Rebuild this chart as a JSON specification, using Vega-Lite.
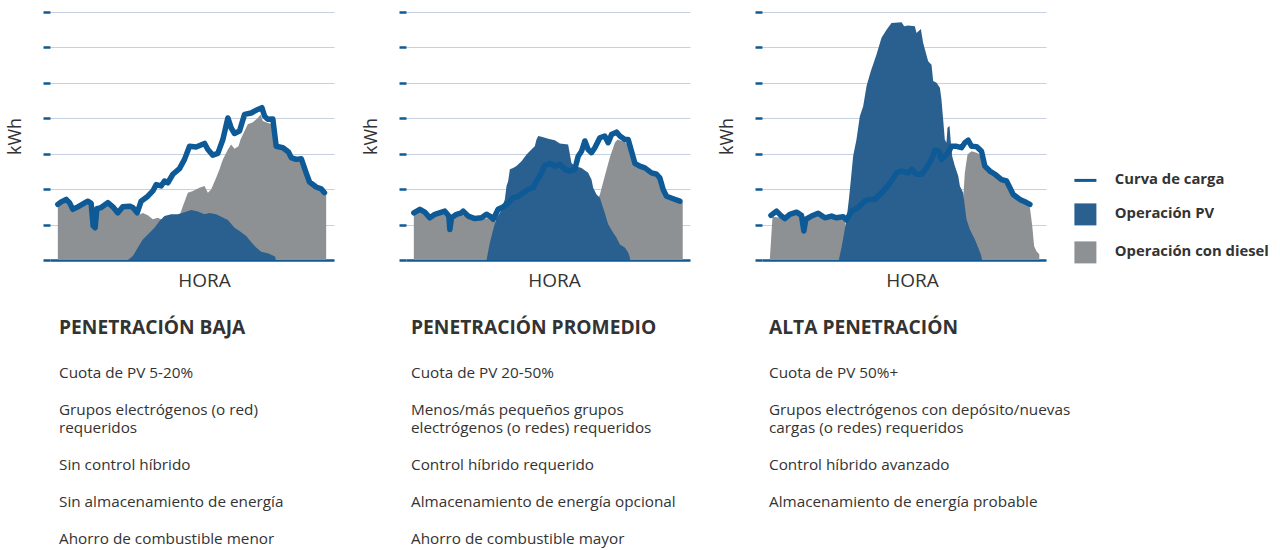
{
  "$schema": "https://vega.github.io/schema/vega-lite/v6.json",
  "background": "white",
  "padding": {"left": 6, "top": 10, "right": 4, "bottom": 2},
  "config": {
    "view": {"stroke": null},
    "font": "Open Sans",
    "axisX": {"labels": false, "ticks": false, "grid": false, "domain": true, "domainColor": "#0f5a94", "domainWidth": 2.5, "titleFontSize": 19, "titleFontWeight": "normal", "titleColor": "#333333", "titlePadding": 11, "zindex": 1},
    "axisY": {"labels": false, "ticks": true, "tickSize": 7, "tickColor": "#0f5a94", "tickWidth": 2.5, "domain": false, "grid": true, "gridColor": "#c6d0df", "gridWidth": 1, "titleFontSize": 18, "titleFontWeight": "normal", "titleColor": "#333333", "titlePadding": 17},
    "title": {"orient": "bottom", "anchor": "start", "frame": "group", "offset": 29, "fontSize": 19.2, "fontWeight": "bold", "color": "#333333", "subtitleFontSize": 15.3, "subtitleColor": "#333333", "subtitleFont": "Open Sans", "subtitleLineHeight": 18.4, "subtitlePadding": 28}
  },
  "datasets": {
    "baja": [
      {"serie": "Curva de carga", "hora": 0, "kwh": 1.57}, {"serie": "Curva de carga", "hora": 0.3, "kwh": 1.64}, {"serie": "Curva de carga", "hora": 0.75, "kwh": 1.71}, {"serie": "Curva de carga", "hora": 1.04, "kwh": 1.62}, {"serie": "Curva de carga", "hora": 1.34, "kwh": 1.43}, {"serie": "Curva de carga", "hora": 1.79, "kwh": 1.5}, {"serie": "Curva de carga", "hora": 2.68, "kwh": 1.66}, {"serie": "Curva de carga", "hora": 2.98, "kwh": 1.6}, {"serie": "Curva de carga", "hora": 3.16, "kwh": 0.96}, {"serie": "Curva de carga", "hora": 3.34, "kwh": 0.91}, {"serie": "Curva de carga", "hora": 3.49, "kwh": 1.45}, {"serie": "Curva de carga", "hora": 3.88, "kwh": 1.48}, {"serie": "Curva de carga", "hora": 4.47, "kwh": 1.62}, {"serie": "Curva de carga", "hora": 4.92, "kwh": 1.5}, {"serie": "Curva de carga", "hora": 5.37, "kwh": 1.33}, {"serie": "Curva de carga", "hora": 5.81, "kwh": 1.5}, {"serie": "Curva de carga", "hora": 6.41, "kwh": 1.52}, {"serie": "Curva de carga", "hora": 6.71, "kwh": 1.48}, {"serie": "Curva de carga", "hora": 7.1, "kwh": 1.33}, {"serie": "Curva de carga", "hora": 7.45, "kwh": 1.66}, {"serie": "Curva de carga", "hora": 8.05, "kwh": 1.8}, {"serie": "Curva de carga", "hora": 8.5, "kwh": 1.95}, {"serie": "Curva de carga", "hora": 8.8, "kwh": 2.13}, {"serie": "Curva de carga", "hora": 9.24, "kwh": 2.09}, {"serie": "Curva de carga", "hora": 9.54, "kwh": 2.23}, {"serie": "Curva de carga", "hora": 9.84, "kwh": 2.18}, {"serie": "Curva de carga", "hora": 10.29, "kwh": 2.42}, {"serie": "Curva de carga", "hora": 10.88, "kwh": 2.58}, {"serie": "Curva de carga", "hora": 11.33, "kwh": 2.84}, {"serie": "Curva de carga", "hora": 11.78, "kwh": 3.21}, {"serie": "Curva de carga", "hora": 12.37, "kwh": 3.19}, {"serie": "Curva de carga", "hora": 13.12, "kwh": 3.29}, {"serie": "Curva de carga", "hora": 13.42, "kwh": 3.12}, {"serie": "Curva de carga", "hora": 13.86, "kwh": 2.96}, {"serie": "Curva de carga", "hora": 14.31, "kwh": 3.01}, {"serie": "Curva de carga", "hora": 14.76, "kwh": 3.4}, {"serie": "Curva de carga", "hora": 15.21, "kwh": 4.01}, {"serie": "Curva de carga", "hora": 15.5, "kwh": 3.73}, {"serie": "Curva de carga", "hora": 15.8, "kwh": 3.57}, {"serie": "Curva de carga", "hora": 16.25, "kwh": 3.64}, {"serie": "Curva de carga", "hora": 16.7, "kwh": 4.11}, {"serie": "Curva de carga", "hora": 17.29, "kwh": 4.15}, {"serie": "Curva de carga", "hora": 17.89, "kwh": 4.25}, {"serie": "Curva de carga", "hora": 18.25, "kwh": 4.3}, {"serie": "Curva de carga", "hora": 18.49, "kwh": 4.06}, {"serie": "Curva de carga", "hora": 18.78, "kwh": 3.97}, {"serie": "Curva de carga", "hora": 19.23, "kwh": 3.98}, {"serie": "Curva de carga", "hora": 19.53, "kwh": 3.21}, {"serie": "Curva de carga", "hora": 20.13, "kwh": 3.17}, {"serie": "Curva de carga", "hora": 20.63, "kwh": 3.05}, {"serie": "Curva de carga", "hora": 20.87, "kwh": 2.89}, {"serie": "Curva de carga", "hora": 21.32, "kwh": 2.84}, {"serie": "Curva de carga", "hora": 21.77, "kwh": 2.86}, {"serie": "Curva de carga", "hora": 22.21, "kwh": 2.46}, {"serie": "Curva de carga", "hora": 22.51, "kwh": 2.2}, {"serie": "Curva de carga", "hora": 23.11, "kwh": 2.06}, {"serie": "Curva de carga", "hora": 23.55, "kwh": 2.01}, {"serie": "Curva de carga", "hora": 23.85, "kwh": 1.9},
      {"serie": "Operación con diesel", "hora": 0, "kwh": 1.54}, {"serie": "Operación con diesel", "hora": 0.75, "kwh": 1.66}, {"serie": "Operación con diesel", "hora": 1.34, "kwh": 1.38}, {"serie": "Operación con diesel", "hora": 2.68, "kwh": 1.62}, {"serie": "Operación con diesel", "hora": 2.98, "kwh": 1.57}, {"serie": "Operación con diesel", "hora": 3.22, "kwh": 0.86}, {"serie": "Operación con diesel", "hora": 3.49, "kwh": 1.41}, {"serie": "Operación con diesel", "hora": 4.47, "kwh": 1.57}, {"serie": "Operación con diesel", "hora": 5.37, "kwh": 1.29}, {"serie": "Operación con diesel", "hora": 5.81, "kwh": 1.45}, {"serie": "Operación con diesel", "hora": 6.71, "kwh": 1.43}, {"serie": "Operación con diesel", "hora": 7.16, "kwh": 1.26}, {"serie": "Operación con diesel", "hora": 7.6, "kwh": 1.33}, {"serie": "Operación con diesel", "hora": 8.05, "kwh": 1.26}, {"serie": "Operación con diesel", "hora": 8.5, "kwh": 1.15}, {"serie": "Operación con diesel", "hora": 8.94, "kwh": 1.19}, {"serie": "Operación con diesel", "hora": 9.39, "kwh": 1.12}, {"serie": "Operación con diesel", "hora": 9.84, "kwh": 0.96}, {"serie": "Operación con diesel", "hora": 10.44, "kwh": 1.05}, {"serie": "Operación con diesel", "hora": 10.97, "kwh": 1.33}, {"serie": "Operación con diesel", "hora": 11.18, "kwh": 1.52}, {"serie": "Operación con diesel", "hora": 11.63, "kwh": 1.9}, {"serie": "Operación con diesel", "hora": 12.08, "kwh": 1.95}, {"serie": "Operación con diesel", "hora": 12.67, "kwh": 2.04}, {"serie": "Operación con diesel", "hora": 13.12, "kwh": 2.09}, {"serie": "Operación con diesel", "hora": 13.42, "kwh": 1.9}, {"serie": "Operación con diesel", "hora": 13.71, "kwh": 1.99}, {"serie": "Operación con diesel", "hora": 14.16, "kwh": 2.32}, {"serie": "Operación con diesel", "hora": 14.46, "kwh": 2.56}, {"serie": "Operación con diesel", "hora": 14.76, "kwh": 2.84}, {"serie": "Operación con diesel", "hora": 15.21, "kwh": 3.12}, {"serie": "Operación con diesel", "hora": 15.5, "kwh": 3.26}, {"serie": "Operación con diesel", "hora": 15.8, "kwh": 3.14}, {"serie": "Operación con diesel", "hora": 16.16, "kwh": 3.21}, {"serie": "Operación con diesel", "hora": 16.34, "kwh": 3.4}, {"serie": "Operación con diesel", "hora": 16.7, "kwh": 3.64}, {"serie": "Operación con diesel", "hora": 16.99, "kwh": 3.83}, {"serie": "Operación con diesel", "hora": 17.44, "kwh": 3.89}, {"serie": "Operación con diesel", "hora": 17.89, "kwh": 4.01}, {"serie": "Operación con diesel", "hora": 18.13, "kwh": 4.11}, {"serie": "Operación con diesel", "hora": 18.34, "kwh": 3.92}, {"serie": "Operación con diesel", "hora": 18.78, "kwh": 3.87}, {"serie": "Operación con diesel", "hora": 19.23, "kwh": 3.83}, {"serie": "Operación con diesel", "hora": 19.53, "kwh": 3.17}, {"serie": "Operación con diesel", "hora": 20.13, "kwh": 3.12}, {"serie": "Operación con diesel", "hora": 20.72, "kwh": 2.95}, {"serie": "Operación con diesel", "hora": 21.17, "kwh": 2.86}, {"serie": "Operación con diesel", "hora": 21.77, "kwh": 2.84}, {"serie": "Operación con diesel", "hora": 22.21, "kwh": 2.42}, {"serie": "Operación con diesel", "hora": 22.51, "kwh": 2.13}, {"serie": "Operación con diesel", "hora": 23.11, "kwh": 2.01}, {"serie": "Operación con diesel", "hora": 23.7, "kwh": 1.92}, {"serie": "Operación con diesel", "hora": 24, "kwh": 1.85},
      {"serie": "Operación PV", "hora": 6.26, "kwh": 0}, {"serie": "Operación PV", "hora": 6.71, "kwh": 0.11}, {"serie": "Operación PV", "hora": 7.16, "kwh": 0.35}, {"serie": "Operación PV", "hora": 7.6, "kwh": 0.58}, {"serie": "Operación PV", "hora": 8.2, "kwh": 0.77}, {"serie": "Operación PV", "hora": 8.65, "kwh": 0.91}, {"serie": "Operación PV", "hora": 9.09, "kwh": 1.1}, {"serie": "Operación PV", "hora": 9.54, "kwh": 1.24}, {"serie": "Operación PV", "hora": 10.14, "kwh": 1.29}, {"serie": "Operación PV", "hora": 10.73, "kwh": 1.29}, {"serie": "Operación PV", "hora": 11.33, "kwh": 1.35}, {"serie": "Operación PV", "hora": 11.93, "kwh": 1.41}, {"serie": "Operación PV", "hora": 12.52, "kwh": 1.37}, {"serie": "Operación PV", "hora": 13.12, "kwh": 1.29}, {"serie": "Operación PV", "hora": 13.57, "kwh": 1.33}, {"serie": "Operación PV", "hora": 14.16, "kwh": 1.29}, {"serie": "Operación PV", "hora": 14.61, "kwh": 1.22}, {"serie": "Operación PV", "hora": 15.21, "kwh": 1.13}, {"serie": "Operación PV", "hora": 15.8, "kwh": 0.91}, {"serie": "Operación PV", "hora": 16.25, "kwh": 0.82}, {"serie": "Operación PV", "hora": 16.85, "kwh": 0.68}, {"serie": "Operación PV", "hora": 17.29, "kwh": 0.51}, {"serie": "Operación PV", "hora": 17.74, "kwh": 0.35}, {"serie": "Operación PV", "hora": 18.19, "kwh": 0.23}, {"serie": "Operación PV", "hora": 18.78, "kwh": 0.19}, {"serie": "Operación PV", "hora": 19.23, "kwh": 0.13}, {"serie": "Operación PV", "hora": 19.44, "kwh": 0.09}, {"serie": "Operación PV", "hora": 19.5, "kwh": 0}
    ],
    "promedio": [
      {"serie": "Curva de carga", "hora": 0, "kwh": 1.33}, {"serie": "Curva de carga", "hora": 0.54, "kwh": 1.43}, {"serie": "Curva de carga", "hora": 0.98, "kwh": 1.35}, {"serie": "Curva de carga", "hora": 1.43, "kwh": 1.19}, {"serie": "Curva de carga", "hora": 1.88, "kwh": 1.29}, {"serie": "Curva de carga", "hora": 2.77, "kwh": 1.38}, {"serie": "Curva de carga", "hora": 3.13, "kwh": 1.24}, {"serie": "Curva de carga", "hora": 3.22, "kwh": 0.86}, {"serie": "Curva de carga", "hora": 3.37, "kwh": 1.19}, {"serie": "Curva de carga", "hora": 3.82, "kwh": 1.29}, {"serie": "Curva de carga", "hora": 4.26, "kwh": 1.33}, {"serie": "Curva de carga", "hora": 4.41, "kwh": 1.38}, {"serie": "Curva de carga", "hora": 4.86, "kwh": 1.24}, {"serie": "Curva de carga", "hora": 5.46, "kwh": 1.17}, {"serie": "Curva de carga", "hora": 6.05, "kwh": 1.19}, {"serie": "Curva de carga", "hora": 6.5, "kwh": 1.29}, {"serie": "Curva de carga", "hora": 6.8, "kwh": 1.24}, {"serie": "Curva de carga", "hora": 7.1, "kwh": 1.15}, {"serie": "Curva de carga", "hora": 7.54, "kwh": 1.43}, {"serie": "Curva de carga", "hora": 7.99, "kwh": 1.5}, {"serie": "Curva de carga", "hora": 8.44, "kwh": 1.6}, {"serie": "Curva de carga", "hora": 8.88, "kwh": 1.76}, {"serie": "Curva de carga", "hora": 9.33, "kwh": 1.79}, {"serie": "Curva de carga", "hora": 9.78, "kwh": 1.9}, {"serie": "Curva de carga", "hora": 10.23, "kwh": 1.99}, {"serie": "Curva de carga", "hora": 10.67, "kwh": 2.04}, {"serie": "Curva de carga", "hora": 10.97, "kwh": 2.23}, {"serie": "Curva de carga", "hora": 11.27, "kwh": 2.37}, {"serie": "Curva de carga", "hora": 11.72, "kwh": 2.67}, {"serie": "Curva de carga", "hora": 12.16, "kwh": 2.73}, {"serie": "Curva de carga", "hora": 12.61, "kwh": 2.65}, {"serie": "Curva de carga", "hora": 13.06, "kwh": 2.7}, {"serie": "Curva de carga", "hora": 13.51, "kwh": 2.56}, {"serie": "Curva de carga", "hora": 13.95, "kwh": 2.51}, {"serie": "Curva de carga", "hora": 14.4, "kwh": 2.56}, {"serie": "Curva de carga", "hora": 14.7, "kwh": 2.93}, {"serie": "Curva de carga", "hora": 15.0, "kwh": 3.07}, {"serie": "Curva de carga", "hora": 15.3, "kwh": 3.36}, {"serie": "Curva de carga", "hora": 15.59, "kwh": 3.12}, {"serie": "Curva de carga", "hora": 15.89, "kwh": 3.03}, {"serie": "Curva de carga", "hora": 16.19, "kwh": 3.17}, {"serie": "Curva de carga", "hora": 16.64, "kwh": 3.45}, {"serie": "Curva de carga", "hora": 17.08, "kwh": 3.5}, {"serie": "Curva de carga", "hora": 17.38, "kwh": 3.31}, {"serie": "Curva de carga", "hora": 17.68, "kwh": 3.54}, {"serie": "Curva de carga", "hora": 18.13, "kwh": 3.61}, {"serie": "Curva de carga", "hora": 18.43, "kwh": 3.5}, {"serie": "Curva de carga", "hora": 18.87, "kwh": 3.4}, {"serie": "Curva de carga", "hora": 19.17, "kwh": 3.4}, {"serie": "Curva de carga", "hora": 19.47, "kwh": 3.07}, {"serie": "Curva de carga", "hora": 19.77, "kwh": 2.73}, {"serie": "Curva de carga", "hora": 20.21, "kwh": 2.65}, {"serie": "Curva de carga", "hora": 20.66, "kwh": 2.6}, {"serie": "Curva de carga", "hora": 21.26, "kwh": 2.46}, {"serie": "Curva de carga", "hora": 21.71, "kwh": 2.42}, {"serie": "Curva de carga", "hora": 22.0, "kwh": 2.32}, {"serie": "Curva de carga", "hora": 22.3, "kwh": 1.99}, {"serie": "Curva de carga", "hora": 22.6, "kwh": 1.8}, {"serie": "Curva de carga", "hora": 23.2, "kwh": 1.73}, {"serie": "Curva de carga", "hora": 23.79, "kwh": 1.66},
      {"serie": "Operación con diesel", "hora": 0, "kwh": 1.29}, {"serie": "Operación con diesel", "hora": 0.54, "kwh": 1.38}, {"serie": "Operación con diesel", "hora": 1.28, "kwh": 1.17}, {"serie": "Operación con diesel", "hora": 2.77, "kwh": 1.33}, {"serie": "Operación con diesel", "hora": 3.13, "kwh": 1.19}, {"serie": "Operación con diesel", "hora": 3.22, "kwh": 0.82}, {"serie": "Operación con diesel", "hora": 3.37, "kwh": 1.15}, {"serie": "Operación con diesel", "hora": 4.26, "kwh": 1.29}, {"serie": "Operación con diesel", "hora": 4.86, "kwh": 1.19}, {"serie": "Operación con diesel", "hora": 6.05, "kwh": 1.15}, {"serie": "Operación con diesel", "hora": 6.8, "kwh": 1.19}, {"serie": "Operación con diesel", "hora": 7.25, "kwh": 1.1}, {"serie": "Operación con diesel", "hora": 8.0, "kwh": 0.6}, {"serie": "Operación con diesel", "hora": 9.5, "kwh": 0.3}, {"serie": "Operación con diesel", "hora": 14.5, "kwh": 0.3}, {"serie": "Operación con diesel", "hora": 15.8, "kwh": 1.0}, {"serie": "Operación con diesel", "hora": 16.2, "kwh": 1.5}, {"serie": "Operación con diesel", "hora": 16.64, "kwh": 1.85}, {"serie": "Operación con diesel", "hora": 17.08, "kwh": 2.37}, {"serie": "Operación con diesel", "hora": 17.53, "kwh": 2.89}, {"serie": "Operación con diesel", "hora": 17.98, "kwh": 3.31}, {"serie": "Operación con diesel", "hora": 18.22, "kwh": 3.4}, {"serie": "Operación con diesel", "hora": 18.87, "kwh": 3.33}, {"serie": "Operación con diesel", "hora": 19.32, "kwh": 3.21}, {"serie": "Operación con diesel", "hora": 19.62, "kwh": 2.7}, {"serie": "Operación con diesel", "hora": 20.21, "kwh": 2.6}, {"serie": "Operación con diesel", "hora": 21.26, "kwh": 2.42}, {"serie": "Operación con diesel", "hora": 22.0, "kwh": 2.27}, {"serie": "Operación con diesel", "hora": 22.3, "kwh": 1.95}, {"serie": "Operación con diesel", "hora": 23.2, "kwh": 1.69}, {"serie": "Operación con diesel", "hora": 24.05, "kwh": 1.66},
      {"serie": "Operación PV", "hora": 6.5, "kwh": 0}, {"serie": "Operación PV", "hora": 6.8, "kwh": 0.49}, {"serie": "Operación PV", "hora": 7.1, "kwh": 0.86}, {"serie": "Operación PV", "hora": 7.39, "kwh": 1.19}, {"serie": "Operación PV", "hora": 7.69, "kwh": 1.33}, {"serie": "Operación PV", "hora": 8.14, "kwh": 1.71}, {"serie": "Operación PV", "hora": 8.29, "kwh": 2.09}, {"serie": "Operación PV", "hora": 8.44, "kwh": 2.23}, {"serie": "Operación PV", "hora": 8.59, "kwh": 2.56}, {"serie": "Operación PV", "hora": 8.88, "kwh": 2.6}, {"serie": "Operación PV", "hora": 9.18, "kwh": 2.65}, {"serie": "Operación PV", "hora": 9.63, "kwh": 2.79}, {"serie": "Operación PV", "hora": 10.08, "kwh": 2.98}, {"serie": "Operación PV", "hora": 10.52, "kwh": 3.12}, {"serie": "Operación PV", "hora": 10.82, "kwh": 3.21}, {"serie": "Operación PV", "hora": 10.97, "kwh": 3.4}, {"serie": "Operación PV", "hora": 11.12, "kwh": 3.5}, {"serie": "Operación PV", "hora": 11.42, "kwh": 3.48}, {"serie": "Operación PV", "hora": 12.02, "kwh": 3.42}, {"serie": "Operación PV", "hora": 12.61, "kwh": 3.38}, {"serie": "Operación PV", "hora": 13.06, "kwh": 3.29}, {"serie": "Operación PV", "hora": 13.8, "kwh": 3.26}, {"serie": "Operación PV", "hora": 14.1, "kwh": 2.74}, {"serie": "Operación PV", "hora": 14.4, "kwh": 2.65}, {"serie": "Operación PV", "hora": 15.0, "kwh": 2.6}, {"serie": "Operación PV", "hora": 15.59, "kwh": 2.46}, {"serie": "Operación PV", "hora": 15.89, "kwh": 2.27}, {"serie": "Operación PV", "hora": 16.04, "kwh": 2.04}, {"serie": "Operación PV", "hora": 16.34, "kwh": 1.85}, {"serie": "Operación PV", "hora": 16.64, "kwh": 1.76}, {"serie": "Operación PV", "hora": 17.08, "kwh": 1.33}, {"serie": "Operación PV", "hora": 17.38, "kwh": 1.01}, {"serie": "Operación PV", "hora": 17.83, "kwh": 0.77}, {"serie": "Operación PV", "hora": 18.13, "kwh": 0.63}, {"serie": "Operación PV", "hora": 18.43, "kwh": 0.44}, {"serie": "Operación PV", "hora": 18.87, "kwh": 0.35}, {"serie": "Operación PV", "hora": 19.17, "kwh": 0.21}, {"serie": "Operación PV", "hora": 19.32, "kwh": 0.07}, {"serie": "Operación PV", "hora": 19.35, "kwh": 0}
    ],
    "alta": [
      {"serie": "Curva de carga", "hora": 0.1, "kwh": 1.26}, {"serie": "Curva de carga", "hora": 0.6, "kwh": 1.38}, {"serie": "Curva de carga", "hora": 1.04, "kwh": 1.24}, {"serie": "Curva de carga", "hora": 1.34, "kwh": 1.17}, {"serie": "Curva de carga", "hora": 1.79, "kwh": 1.29}, {"serie": "Curva de carga", "hora": 2.39, "kwh": 1.35}, {"serie": "Curva de carga", "hora": 2.83, "kwh": 1.26}, {"serie": "Curva de carga", "hora": 3.04, "kwh": 0.82}, {"serie": "Curva de carga", "hora": 3.22, "kwh": 1.15}, {"serie": "Curva de carga", "hora": 3.73, "kwh": 1.24}, {"serie": "Curva de carga", "hora": 4.32, "kwh": 1.32}, {"serie": "Curva de carga", "hora": 4.92, "kwh": 1.19}, {"serie": "Curva de carga", "hora": 5.52, "kwh": 1.24}, {"serie": "Curva de carga", "hora": 5.96, "kwh": 1.19}, {"serie": "Curva de carga", "hora": 6.56, "kwh": 1.22}, {"serie": "Curva de carga", "hora": 6.86, "kwh": 1.13}, {"serie": "Curva de carga", "hora": 7.3, "kwh": 1.38}, {"serie": "Curva de carga", "hora": 7.9, "kwh": 1.48}, {"serie": "Curva de carga", "hora": 8.5, "kwh": 1.66}, {"serie": "Curva de carga", "hora": 8.94, "kwh": 1.71}, {"serie": "Curva de carga", "hora": 9.39, "kwh": 1.71}, {"serie": "Curva de carga", "hora": 9.84, "kwh": 1.85}, {"serie": "Curva de carga", "hora": 10.29, "kwh": 1.99}, {"serie": "Curva de carga", "hora": 10.88, "kwh": 2.23}, {"serie": "Curva de carga", "hora": 11.33, "kwh": 2.46}, {"serie": "Curva de carga", "hora": 11.78, "kwh": 2.51}, {"serie": "Curva de carga", "hora": 12.37, "kwh": 2.46}, {"serie": "Curva de carga", "hora": 12.67, "kwh": 2.56}, {"serie": "Curva de carga", "hora": 13.12, "kwh": 2.42}, {"serie": "Curva de carga", "hora": 13.57, "kwh": 2.42}, {"serie": "Curva de carga", "hora": 14.01, "kwh": 2.6}, {"serie": "Curva de carga", "hora": 14.46, "kwh": 2.84}, {"serie": "Curva de carga", "hora": 14.76, "kwh": 3.1}, {"serie": "Curva de carga", "hora": 15.12, "kwh": 3.07}, {"serie": "Curva de carga", "hora": 15.35, "kwh": 2.84}, {"serie": "Curva de carga", "hora": 15.65, "kwh": 2.93}, {"serie": "Curva de carga", "hora": 15.95, "kwh": 3.03}, {"serie": "Curva de carga", "hora": 16.25, "kwh": 3.21}, {"serie": "Curva de carga", "hora": 16.7, "kwh": 3.21}, {"serie": "Curva de carga", "hora": 17.14, "kwh": 3.17}, {"serie": "Curva de carga", "hora": 17.44, "kwh": 3.31}, {"serie": "Curva de carga", "hora": 17.74, "kwh": 3.38}, {"serie": "Curva de carga", "hora": 18.04, "kwh": 3.21}, {"serie": "Curva de carga", "hora": 18.49, "kwh": 3.2}, {"serie": "Curva de carga", "hora": 18.93, "kwh": 3.07}, {"serie": "Curva de carga", "hora": 19.23, "kwh": 2.65}, {"serie": "Curva de carga", "hora": 19.68, "kwh": 2.51}, {"serie": "Curva de carga", "hora": 20.13, "kwh": 2.42}, {"serie": "Curva de carga", "hora": 20.72, "kwh": 2.27}, {"serie": "Curva de carga", "hora": 21.17, "kwh": 2.23}, {"serie": "Curva de carga", "hora": 21.47, "kwh": 2.04}, {"serie": "Curva de carga", "hora": 21.77, "kwh": 1.85}, {"serie": "Curva de carga", "hora": 22.36, "kwh": 1.71}, {"serie": "Curva de carga", "hora": 22.96, "kwh": 1.62}, {"serie": "Curva de carga", "hora": 23.26, "kwh": 1.57},
      {"serie": "Operación con diesel", "hora": 0, "kwh": 0.02}, {"serie": "Operación con diesel", "hora": 0.15, "kwh": 0.77}, {"serie": "Operación con diesel", "hora": 0.24, "kwh": 1.22}, {"serie": "Operación con diesel", "hora": 1.04, "kwh": 1.19}, {"serie": "Operación con diesel", "hora": 1.34, "kwh": 1.13}, {"serie": "Operación con diesel", "hora": 2.39, "kwh": 1.32}, {"serie": "Operación con diesel", "hora": 2.83, "kwh": 1.22}, {"serie": "Operación con diesel", "hora": 3.04, "kwh": 0.75}, {"serie": "Operación con diesel", "hora": 3.22, "kwh": 1.1}, {"serie": "Operación con diesel", "hora": 4.32, "kwh": 1.26}, {"serie": "Operación con diesel", "hora": 5.52, "kwh": 1.19}, {"serie": "Operación con diesel", "hora": 6.56, "kwh": 1.17}, {"serie": "Operación con diesel", "hora": 6.71, "kwh": 1.1}, {"serie": "Operación con diesel", "hora": 7.0, "kwh": 0.4}, {"serie": "Operación con diesel", "hora": 7.3, "kwh": 0}, {"serie": "Operación con diesel", "hora": 17.0, "kwh": 0}, {"serie": "Operación con diesel", "hora": 17.29, "kwh": 1.7}, {"serie": "Operación con diesel", "hora": 17.44, "kwh": 2.46}, {"serie": "Operación con diesel", "hora": 17.68, "kwh": 2.98}, {"serie": "Operación con diesel", "hora": 18.04, "kwh": 3.07}, {"serie": "Operación con diesel", "hora": 18.63, "kwh": 3.01}, {"serie": "Operación con diesel", "hora": 19.08, "kwh": 2.84}, {"serie": "Operación con diesel", "hora": 19.23, "kwh": 2.6}, {"serie": "Operación con diesel", "hora": 19.68, "kwh": 2.46}, {"serie": "Operación con diesel", "hora": 20.13, "kwh": 2.37}, {"serie": "Operación con diesel", "hora": 20.72, "kwh": 2.23}, {"serie": "Operación con diesel", "hora": 21.17, "kwh": 2.18}, {"serie": "Operación con diesel", "hora": 21.47, "kwh": 1.99}, {"serie": "Operación con diesel", "hora": 21.77, "kwh": 1.8}, {"serie": "Operación con diesel", "hora": 22.36, "kwh": 1.66}, {"serie": "Operación con diesel", "hora": 22.96, "kwh": 1.57}, {"serie": "Operación con diesel", "hora": 23.26, "kwh": 1.48}, {"serie": "Operación con diesel", "hora": 23.47, "kwh": 0.96}, {"serie": "Operación con diesel", "hora": 23.64, "kwh": 0.39}, {"serie": "Operación con diesel", "hora": 23.85, "kwh": 0.25}, {"serie": "Operación con diesel", "hora": 24.1, "kwh": 0.16},
      {"serie": "Operación PV", "hora": 6.17, "kwh": 0}, {"serie": "Operación PV", "hora": 6.41, "kwh": 0.35}, {"serie": "Operación PV", "hora": 6.65, "kwh": 0.77}, {"serie": "Operación PV", "hora": 6.86, "kwh": 1.15}, {"serie": "Operación PV", "hora": 7.07, "kwh": 1.71}, {"serie": "Operación PV", "hora": 7.25, "kwh": 2.27}, {"serie": "Operación PV", "hora": 7.45, "kwh": 2.93}, {"serie": "Operación PV", "hora": 7.75, "kwh": 3.4}, {"serie": "Operación PV", "hora": 8.05, "kwh": 4.06}, {"serie": "Operación PV", "hora": 8.35, "kwh": 4.34}, {"serie": "Operación PV", "hora": 8.65, "kwh": 4.91}, {"serie": "Operación PV", "hora": 9.03, "kwh": 5.33}, {"serie": "Operación PV", "hora": 9.54, "kwh": 5.8}, {"serie": "Operación PV", "hora": 9.99, "kwh": 6.27}, {"serie": "Operación PV", "hora": 10.44, "kwh": 6.5}, {"serie": "Operación PV", "hora": 10.88, "kwh": 6.69}, {"serie": "Operación PV", "hora": 11.78, "kwh": 6.71}, {"serie": "Operación PV", "hora": 12.02, "kwh": 6.6}, {"serie": "Operación PV", "hora": 12.37, "kwh": 6.62}, {"serie": "Operación PV", "hora": 12.97, "kwh": 6.6}, {"serie": "Operación PV", "hora": 13.12, "kwh": 6.41}, {"serie": "Operación PV", "hora": 13.51, "kwh": 6.52}, {"serie": "Operación PV", "hora": 13.71, "kwh": 6.13}, {"serie": "Operación PV", "hora": 14.16, "kwh": 5.61}, {"serie": "Operación PV", "hora": 14.46, "kwh": 5.51}, {"serie": "Operación PV", "hora": 14.61, "kwh": 5.05}, {"serie": "Operación PV", "hora": 14.91, "kwh": 5.0}, {"serie": "Operación PV", "hora": 15.21, "kwh": 4.86}, {"serie": "Operación PV", "hora": 15.35, "kwh": 4.53}, {"serie": "Operación PV", "hora": 15.5, "kwh": 3.97}, {"serie": "Operación PV", "hora": 15.65, "kwh": 3.4}, {"serie": "Operación PV", "hora": 15.8, "kwh": 3.31}, {"serie": "Operación PV", "hora": 15.89, "kwh": 3.73}, {"serie": "Operación PV", "hora": 16.07, "kwh": 3.78}, {"serie": "Operación PV", "hora": 16.19, "kwh": 3.31}, {"serie": "Operación PV", "hora": 16.31, "kwh": 2.93}, {"serie": "Operación PV", "hora": 16.55, "kwh": 2.65}, {"serie": "Operación PV", "hora": 16.85, "kwh": 2.37}, {"serie": "Operación PV", "hora": 17.0, "kwh": 2.09}, {"serie": "Operación PV", "hora": 17.29, "kwh": 1.9}, {"serie": "Operación PV", "hora": 17.44, "kwh": 1.52}, {"serie": "Operación PV", "hora": 17.59, "kwh": 1.15}, {"serie": "Operación PV", "hora": 17.89, "kwh": 0.86}, {"serie": "Operación PV", "hora": 18.34, "kwh": 0.58}, {"serie": "Operación PV", "hora": 18.63, "kwh": 0.35}, {"serie": "Operación PV", "hora": 18.87, "kwh": 0.16}, {"serie": "Operación PV", "hora": 18.99, "kwh": 0}
    ]
  },
  "spacing": 72,
  "bounds": "flush",
  "resolve": {"scale": {"color": "shared"}},
  "hconcat": [
    {
      "width": 284, "height": 248,
      "data": {"name": "baja"},
      "title": {"text": "PENETRACIÓN BAJA", "dx": 9, "subtitle": ["Cuota de PV 5-20%", "\u200b\u00a0\u200b", "Grupos electrógenos (o red)", "requeridos", "\u200b\u00a0\u200b", "Sin control híbrido", "\u200b\u00a0\u200b", "Sin almacenamiento de energía", "\u200b\u00a0\u200b", "Ahorro de combustible menor"]},
      "encoding": {
        "x": {"field": "hora", "type": "quantitative", "scale": {"domain": [-0.7, 24.7], "nice": false, "zero": false}, "axis": {"title": "HORA", "titleX": 154}},
        "y": {"field": "kwh", "type": "quantitative", "stack": null, "scale": {"domain": [0, 7], "nice": false}, "axis": {"title": "kWh", "values": [0, 1, 2, 3, 4, 5, 6, 7]}},
        "color": {"field": "serie", "type": "nominal", "scale": {"domain": ["Curva de carga", "Operación PV", "Operación con diesel"], "range": ["#0d5a97", "#29608f", "#8e9193"]},
          "legend": {"orient": "none", "legendX": 1028, "legendY": 161, "title": null, "labelFont": "Open Sans", "labelFontSize": 14.8, "labelFontWeight": "bold", "labelColor": "#333333", "labelOffset": 22, "rowPadding": 15, "symbolSize": 484,
            "encode": {"symbols": {"update": {
              "shape": {"signal": "datum.value === 'Curva de carga' ? 'stroke' : 'square'"},
              "fill": {"signal": "datum.value === 'Curva de carga' ? 'transparent' : scale('color', datum.value)"},
              "stroke": {"signal": "scale('color', datum.value)"},
              "strokeWidth": {"signal": "datum.value === 'Curva de carga' ? 3 : 0"},
              "size": {"value": 484},
              "opacity": {"value": 1}
            }}}}
        }
      },
      "layer": [
        {"transform": [{"filter": {"field": "serie", "equal": "Operación con diesel"}}], "mark": {"type": "area", "opacity": 1}},
        {"transform": [{"filter": {"field": "serie", "equal": "Operación PV"}}], "mark": {"type": "area", "opacity": 1}},
        {"transform": [{"filter": {"field": "serie", "equal": "Curva de carga"}}], "mark": {"type": "line", "strokeWidth": 5.5, "strokeCap": "round", "strokeJoin": "round"}}
      ]
    },
    {
      "width": 284, "height": 248,
      "data": {"name": "promedio"},
      "title": {"text": "PENETRACIÓN PROMEDIO", "dx": 5, "subtitle": ["Cuota de PV 20-50%", "\u200b\u00a0\u200b", "Menos/más pequeños grupos", "electrógenos (o redes) requeridos", "\u200b\u00a0\u200b", "Control híbrido requerido", "\u200b\u00a0\u200b", "Almacenamiento de energía opcional", "\u200b\u00a0\u200b", "Ahorro de combustible mayor"]},
      "encoding": {
        "x": {"field": "hora", "type": "quantitative", "scale": {"domain": [-0.7, 24.7], "nice": false, "zero": false}, "axis": {"title": "HORA", "titleX": 148}},
        "y": {"field": "kwh", "type": "quantitative", "stack": null, "scale": {"domain": [0, 7], "nice": false}, "axis": {"title": "kWh", "values": [0, 1, 2, 3, 4, 5, 6, 7]}},
        "color": {"field": "serie", "type": "nominal", "scale": {"domain": ["Curva de carga", "Operación PV", "Operación con diesel"], "range": ["#0d5a97", "#29608f", "#8e9193"]}}
      },
      "layer": [
        {"transform": [{"filter": {"field": "serie", "equal": "Operación con diesel"}}], "mark": {"type": "area", "opacity": 1}},
        {"transform": [{"filter": {"field": "serie", "equal": "Operación PV"}}], "mark": {"type": "area", "opacity": 1}},
        {"transform": [{"filter": {"field": "serie", "equal": "Curva de carga"}}], "mark": {"type": "line", "strokeWidth": 5.5, "strokeCap": "round", "strokeJoin": "round"}}
      ]
    },
    {
      "width": 284, "height": 248,
      "data": {"name": "alta"},
      "title": {"text": "ALTA PENETRACIÓN", "dx": 7, "subtitle": ["Cuota de PV 50%+", "\u200b\u00a0\u200b", "Grupos electrógenos con depósito/nuevas", "cargas (o redes) requeridos", "\u200b\u00a0\u200b", "Control híbrido avanzado", "\u200b\u00a0\u200b", "Almacenamiento de energía probable"]},
      "encoding": {
        "x": {"field": "hora", "type": "quantitative", "scale": {"domain": [-0.7, 24.7], "nice": false, "zero": false}, "axis": {"title": "HORA", "titleX": 150}},
        "y": {"field": "kwh", "type": "quantitative", "stack": null, "scale": {"domain": [0, 7], "nice": false}, "axis": {"title": "kWh", "values": [0, 1, 2, 3, 4, 5, 6, 7]}},
        "color": {"field": "serie", "type": "nominal", "scale": {"domain": ["Curva de carga", "Operación PV", "Operación con diesel"], "range": ["#0d5a97", "#29608f", "#8e9193"]}}
      },
      "layer": [
        {"transform": [{"filter": {"field": "serie", "equal": "Operación con diesel"}}], "mark": {"type": "area", "opacity": 1}},
        {"transform": [{"filter": {"field": "serie", "equal": "Operación PV"}}], "mark": {"type": "area", "opacity": 1}},
        {"transform": [{"filter": {"field": "serie", "equal": "Curva de carga"}}], "mark": {"type": "line", "strokeWidth": 5.5, "strokeCap": "round", "strokeJoin": "round"}}
      ]
    }
  ]
}
